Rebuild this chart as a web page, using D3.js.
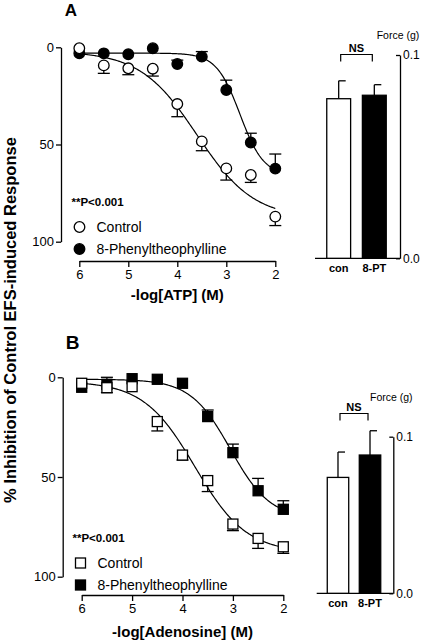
<!DOCTYPE html>
<html>
<head>
<meta charset="utf-8">
<script src="https://cdn.jsdelivr.net/npm/d3@7"></script>
<style>
  html, body { margin: 0; padding: 0; background: #fff; }
  svg { display: block; font-family: "Liberation Sans", Arial, sans-serif; }
</style>
</head>
<body>
<svg id="chart" width="425" height="640"></svg>
<script>
// ---------- DATA ----------
const logConc = [6, 5.5, 5, 4.5, 4, 3.5, 3, 2.5, 2];
const xTicks = [6, 5, 4, 3, 2];
const yTicks = [0, 50, 100];
const forceTicks = [0.0, 0.1];
const barCats = ["con", "8-PT"];

// Panel A : ATP
const atpControl    = [0.5, 9.3, 10.8, 11, 29.2, 48.4, 62.3, 65.7, 87.1];
const atpControlErr = [0, 4.1, 3.3, 3.8, 6.5, 4.8, 6, 3.8, 4.6];
const atpPT         = [3.1, 3.1, 3.6, 0.5, 8.6, 4.8, 22, 49, 62.4];
const atpPTErr      = [0, 0, 0, 0, 2, 2.6, 5.1, 4.8, 7.5];
// fit: [bottom, top, -logEC50, hill]
const atpControlFit = [2, 88, 3.6, 0.75];
const atpPTFit      = [3, 66, 2.72, 1.8];
const atpForce      = [0.0785, 0.0802];
const atpForceErr   = [0.0088, 0.0052];

// Panel B : Adenosine
const adoControl    = [3, 5.2, 4.7, 22.2, 39, 51.8, 73.6, 80.8, 85];
const adoControlErr = [0, 2.5, 0, 4.7, 2.5, 5.5, 3.3, 5, 3.3];
const adoPT         = [5, 3.5, 0.7, 1, 3, 19.7, 37.8, 56.9, 66.2];
const adoPTErr      = [0, 3.5, 0, 0, 0, 3.3, 4.3, 6.2, 4.3];
const adoControlFit = [2, 88, 3.75, 0.85];
const adoPTFit      = [1, 71, 3.05, 1.1];
const adoForce      = [0.074, 0.0883];
const adoForceErr   = [0.0162, 0.0155];

// ---------- DRAW ----------
const svg = d3.select("#chart");

function fitCurve(p) {
  const [bottom, top, ec, hill] = p;
  return x => bottom + (top - bottom) / (1 + Math.pow(10, (x - ec) * hill));
}

function drawPanel(cfg) {
  const g = svg.append("g");
  const x = d3.scaleLinear().domain([6, 2]).range([cfg.x0, cfg.x1]);
  const y = d3.scaleLinear().domain([0, 100]).range([cfg.y0, cfg.y1]);

  const ya = g.append("g").attr("transform", `translate(${cfg.yAxisX},0)`)
    .call(d3.axisLeft(y).tickValues(yTicks).tickFormat(d3.format("d")).tickSize(5).tickSizeOuter(0).tickPadding(2));
  const xa = g.append("g").attr("transform", `translate(0,${cfg.xAxisY})`)
    .call(d3.axisBottom(x).tickValues(xTicks).tickFormat(d3.format("d")).tickSize(6).tickSizeOuter(0).tickPadding(3));
  [ya, xa].forEach(a => {
    a.selectAll("path,line").attr("stroke", "#000").attr("stroke-width", 1.3);
    a.selectAll("text").attr("font-size", 13).attr("fill", "#000")
      .attr("font-family", "Liberation Sans, Arial, sans-serif");
  });

  const line = d3.line().x(d => x(d[0])).y(d => y(d[1]));
  const xs = d3.range(6, 1.999, -0.02);
  [cfg.ctlFit, cfg.ptFit].forEach(p => {
    const f = fitCurve(p);
    g.append("path").attr("d", line(xs.map(v => [v, f(v)])))
      .attr("fill", "none").attr("stroke", "#000").attr("stroke-width", 1.2);
  });

  function errBars(vals, errs, dir) {
    vals.forEach((v, i) => {
      if (!errs[i]) return;
      const e = v + dir * errs[i];
      const cx = x(logConc[i]);
      g.append("line").attr("x1", cx).attr("x2", cx).attr("y1", y(v)).attr("y2", y(e))
        .attr("stroke", "#000").attr("stroke-width", 1.3);
      g.append("line").attr("x1", cx - 6).attr("x2", cx + 6).attr("y1", y(e)).attr("y2", y(e))
        .attr("stroke", "#000").attr("stroke-width", 1.3);
    });
  }
  errBars(cfg.pt, cfg.ptErr, -1);
  errBars(cfg.ctl, cfg.ctlErr, 1);

  function marker(sel, cx, cy, filled) {
    if (cfg.shape === "circle") {
      sel.append("circle").attr("cx", cx).attr("cy", cy).attr("r", 5.3)
        .attr("fill", filled ? "#000" : "#fff").attr("stroke", "#000").attr("stroke-width", 1.3);
    } else {
      sel.append("rect").attr("x", cx - 5).attr("y", cy - 5).attr("width", 10).attr("height", 10)
        .attr("fill", filled ? "#000" : "#fff").attr("stroke", "#000").attr("stroke-width", 1.3);
    }
  }
  cfg.pt.forEach((v, i) => marker(g, x(logConc[i]), y(v), true));
  cfg.ctl.forEach((v, i) => marker(g, x(logConc[i]), y(v), false));

  g.append("text").attr("x", cfg.legX - 8).attr("y", cfg.legY).text("**P<0.001")
    .attr("font-size", 11.5).attr("font-weight", "bold");
  marker(g, cfg.legX, cfg.legY + 21, false);
  marker(g, cfg.legX, cfg.legY + 43, true);
  g.append("text").attr("x", cfg.legX + 17).attr("y", cfg.legY + 26).text("Control").attr("font-size", 14);
  g.append("text").attr("x", cfg.legX + 17).attr("y", cfg.legY + 48).text("8-Phenyltheophylline").attr("font-size", 14);

  g.append("text").attr("x", (cfg.x0 + cfg.x1) / 2).attr("y", cfg.xTitleY).attr("text-anchor", "middle")
    .attr("font-size", 15).attr("font-weight", "bold").text(cfg.xTitle);
  g.append("text").attr("x", cfg.letterX).attr("y", cfg.letterY).attr("text-anchor", "middle")
    .attr("font-size", cfg.letterSize).attr("font-weight", "bold").text(cfg.letter);

  // bar inset
  const yb = d3.scaleLinear().domain([0, 0.1]).range([cfg.bY0, cfg.bY1]);
  const xb = d3.scaleBand().domain(barCats).range([cfg.bX0, cfg.bAxisX - 2]).paddingInner(0.33).paddingOuter(0.33);
  const ba = g.append("g").attr("transform", `translate(${cfg.bAxisX},0)`)
    .call(d3.axisRight(yb).tickValues(forceTicks).tickFormat(d3.format(".1f")).tickSizeInner(-4).tickSizeOuter(0).tickPadding(3));
  ba.selectAll("path,line").attr("stroke", "#000").attr("stroke-width", 1.3);
  ba.selectAll("text").attr("font-size", 12).attr("fill", "#000").attr("font-family", "Liberation Sans, Arial, sans-serif");
  g.append("line").attr("x1", cfg.bX0).attr("x2", cfg.bAxisX).attr("y1", yb(0)).attr("y2", yb(0))
    .attr("stroke", "#000").attr("stroke-width", 1.3);
  cfg.force.forEach((v, i) => {
    const bx = xb(barCats[i]), bw = xb.bandwidth(), cx = bx + bw / 2;
    const top = yb(v + cfg.forceErr[i]);
    g.append("line").attr("x1", cx).attr("x2", cx).attr("y1", yb(v)).attr("y2", top).attr("stroke", "#000").attr("stroke-width", 1.3);
    g.append("line").attr("x1", cx).attr("x2", cx + 7).attr("y1", top).attr("y2", top).attr("stroke", "#000").attr("stroke-width", 1.3);
    g.append("rect").attr("x", bx).attr("y", yb(v)).attr("width", bw).attr("height", yb(0) - yb(v))
      .attr("fill", i === 0 ? "#fff" : "#000").attr("stroke", "#000").attr("stroke-width", 1.3);
    g.append("text").attr("x", cx).attr("y", yb(0) + 14).attr("text-anchor", "middle")
      .attr("font-size", 11).attr("font-weight", "bold").text(barCats[i]);
  });
  const c0 = xb(barCats[0]) + xb.bandwidth() / 2 + 2, c1 = xb(barCats[1]) + xb.bandwidth() / 2 - 2;
  g.append("path").attr("d", `M${c0},${cfg.nsY + 7}V${cfg.nsY}H${c1}V${cfg.nsY + 7}`)
    .attr("fill", "none").attr("stroke", "#000").attr("stroke-width", 1.2);
  g.append("text").attr("x", (c0 + c1) / 2).attr("y", cfg.nsY - 3).attr("text-anchor", "middle")
    .attr("font-size", 11).attr("font-weight", "bold").text("NS");
  g.append("text").attr("x", cfg.bAxisX - 2).attr("y", cfg.forceY).attr("text-anchor", "middle")
    .attr("font-size", 10.5).text("Force (g)");
}

drawPanel({
  letter: "A", letterX: 71, letterY: 15.5, letterSize: 17, shape: "circle",
  x0: 79.3, x1: 275.3, y0: 47.3, y1: 241.7, yAxisX: 61, xAxisY: 261,
  xTitle: "-log[ATP] (M)", xTitleY: 300,
  ctl: atpControl, ctlErr: atpControlErr, pt: atpPT, ptErr: atpPTErr,
  ctlFit: atpControlFit, ptFit: atpPTFit,
  legX: 79.5, legY: 206,
  bX0: 315, bAxisX: 400, bY0: 258.3, bY1: 55,
  force: atpForce, forceErr: atpForceErr, nsY: 54.5, forceY: 39
});

drawPanel({
  letter: "B", letterX: 72.5, letterY: 349.3, letterSize: 19, shape: "square",
  x0: 81.7, x1: 283.3, y0: 377.3, y1: 576.7, yAxisX: 62.7, xAxisY: 595,
  xTitle: "-log[Adenosine] (M)", xTitleY: 637,
  ctl: adoControl, ctlErr: adoControlErr, pt: adoPT, ptErr: adoPTErr,
  ctlFit: adoControlFit, ptFit: adoPTFit,
  legX: 80.5, legY: 542,
  bX0: 316.7, bAxisX: 393.3, bY0: 593.3, bY1: 436.7,
  force: adoForce, forceErr: adoForceErr, nsY: 413.5, forceY: 400.5
});

svg.append("text").attr("transform", "translate(16,320) rotate(-90)").attr("text-anchor", "middle")
  .attr("font-size", 16.5).attr("font-weight", "bold").text("% Inhibition of Control EFS-induced Response");
</script>
</body>
</html>
